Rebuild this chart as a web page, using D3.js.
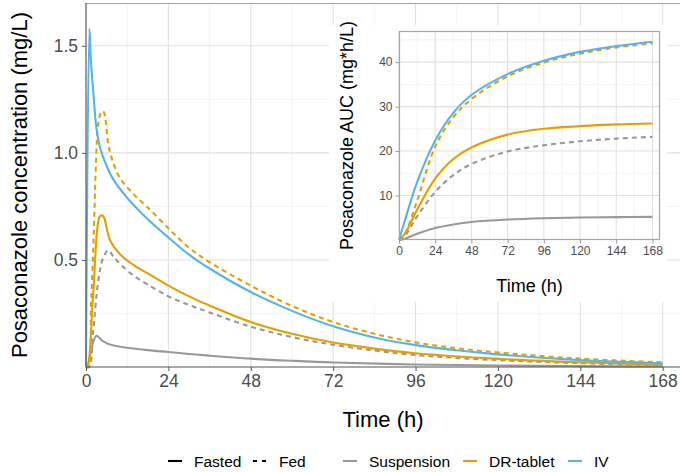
<!DOCTYPE html>
<html lang="en">
<head>
<meta charset="utf-8">
<title>Posaconazole concentration</title>
<script src="https://d3js.org/d3.v7.min.js"></script>
<style>
  body { margin: 0; background: #fff; }
  svg { font-family: "Liberation Sans", Arial, sans-serif; }
</style>
</head>
<body>
<div id="chart"></div>
<script>
// ---- data ----
const xTicks = [0, 24, 48, 72, 96, 120, 144, 168];
const concTicks = [0.5, 1.0, 1.5];
const aucTicks = [10, 20, 30, 40];
const formulations = ["Suspension", "DR-tablet", "IV"];
const states = ["Fasted", "Fed"];

// concentration (mg/L)
const suspFastedTime = [0, 0.3, 3, 5, 8, 12, 18, 24, 30, 36, 48, 60, 72, 96, 120, 144, 168];
const suspFastedConc = [0, 0, 0.145, 0.12, 0.10, 0.09, 0.079, 0.07, 0.061, 0.053, 0.039, 0.029, 0.021, 0.012, 0.007, 0.004, 0.002];
const suspFedTime = [0, 1, 2, 3.6, 5, 6.5, 8, 10, 14, 18, 24, 30, 36, 48, 60, 72, 84, 96, 120, 144, 168];
const suspFedConc = [0, 0, 0.15, 0.405, 0.51, 0.545, 0.515, 0.48, 0.425, 0.385, 0.33, 0.29, 0.255, 0.188, 0.14, 0.104, 0.077, 0.056, 0.032, 0.018, 0.008];
const drFastedTime = [0, 0.4, 2.1, 3.9, 4.6, 5.2, 7, 10, 14, 18, 24, 30, 36, 48, 60, 72, 84, 96, 120, 144, 168];
const drFastedConc = [0, 0, 0.34, 0.70, 0.708, 0.70, 0.592, 0.525, 0.475, 0.437, 0.38, 0.33, 0.287, 0.21, 0.155, 0.114, 0.086, 0.064, 0.038, 0.022, 0.01];
const drFedTime = [0, 0.7, 1.5, 2.3, 2.9, 3.6, 4.6, 5.2, 6.5, 8, 10, 14, 18, 24, 30, 36, 48, 60, 72, 84, 96, 108, 120, 144, 168];
const drFedConc = [0, 0, 0.3, 0.64, 0.95, 1.14, 1.195, 1.19, 1.04, 0.95, 0.88, 0.805, 0.745, 0.648, 0.557, 0.49, 0.38, 0.285, 0.21, 0.155, 0.115, 0.088, 0.068, 0.039, 0.022];
const ivTime = [0, 1, 1.5, 2, 3, 4, 6, 8, 12, 18, 24, 30, 36, 48, 60, 72, 84, 96, 108, 120, 144, 168];
const ivConc = [0, 1.58, 1.41, 1.31, 1.12, 1.03, 0.94, 0.875, 0.79, 0.69, 0.605, 0.525, 0.46, 0.35, 0.262, 0.19, 0.138, 0.102, 0.078, 0.059, 0.032, 0.017];

// cumulative AUC (mg*h/L)
const aucTime = [0, 4, 12, 24, 36, 48, 72, 96, 120, 144, 168];
const aucSuspFasted = [0, 0.3, 1.4, 2.7, 3.5, 4.05, 4.6, 4.9, 5.05, 5.15, 5.2];
const aucSuspFed = [0, 1.0, 5.3, 10.8, 14.6, 17.1, 19.9, 21.3, 22.2, 22.8, 23.2];
const aucDrFasted = [0, 1.5, 6.8, 13.8, 18.2, 20.8, 23.7, 25.0, 25.6, 26.0, 26.2];
const aucDrFed = [0, 1.5, 8.8, 21.0, 27.6, 31.7, 36.8, 39.9, 41.9, 43.3, 44.2];
const aucIvFasted = [0, 4.5, 13, 22.4, 28.6, 32.6, 37.3, 40.3, 42.3, 43.6, 44.6];

const colors = {"Suspension": "#999999", "DR-tablet": "#E69F00", "IV": "#56B4E9"};
const dashes = {"Fasted": null, "Fed": "5,4"};

const zip = (xs, ys) => xs.map((x, i) => [x, ys[i]]);

const concSeries = [
  {form: "Suspension", state: "Fasted", pts: zip(suspFastedTime, suspFastedConc)},
  {form: "Suspension", state: "Fed", pts: zip(suspFedTime, suspFedConc)},
  {form: "DR-tablet", state: "Fasted", pts: zip(drFastedTime, drFastedConc)},
  {form: "DR-tablet", state: "Fed", pts: zip(drFedTime, drFedConc)},
  {form: "IV", state: "Fasted", pts: zip(ivTime, ivConc)}
];
const aucSeries = [
  {form: "Suspension", state: "Fasted", pts: zip(aucTime, aucSuspFasted)},
  {form: "Suspension", state: "Fed", pts: zip(aucTime, aucSuspFed)},
  {form: "DR-tablet", state: "Fasted", pts: zip(aucTime, aucDrFasted)},
  {form: "DR-tablet", state: "Fed", pts: zip(aucTime, aucDrFed)},
  {form: "IV", state: "Fasted", pts: zip(aucTime, aucIvFasted)}
];

const W = 680, H = 472;
const svg = d3.select("#chart").append("svg")
  .attr("width", W).attr("height", H);

const tickCol = "#4d4d4d";
const gridMajor = "#e0e0e0", gridMinor = "#eeeeee";

function minorBetween(ticks) {
  const out = [];
  for (let i = 0; i < ticks.length - 1; i++) out.push((ticks[i] + ticks[i + 1]) / 2);
  return out;
}

// draws a panel: grid, lines, border, axes
function drawPanel(g, opt) {
  const x = opt.x, y = opt.y;
  const [x0, x1] = x.range(), [y0, y1] = y.range();

  g.append("rect").attr("x", x0).attr("y", y1).attr("width", x1 - x0).attr("height", y0 - y1)
    .attr("fill", "#fff");

  const xMinor = minorBetween(xTicks);
  const yMinor = opt.yMinor;
  g.selectAll(".gxm").data(xMinor).join("line")
    .attr("x1", d => x(d)).attr("x2", d => x(d)).attr("y1", y0).attr("y2", y1)
    .attr("stroke", gridMinor).attr("stroke-width", 0.7);
  g.selectAll(".gym").data(yMinor).join("line")
    .attr("y1", d => y(d)).attr("y2", d => y(d)).attr("x1", x0).attr("x2", x1)
    .attr("stroke", gridMinor).attr("stroke-width", 0.7);
  g.selectAll(".gx").data(xTicks).join("line")
    .attr("x1", d => x(d)).attr("x2", d => x(d)).attr("y1", y0).attr("y2", y1)
    .attr("stroke", gridMajor).attr("stroke-width", 1.1);
  g.selectAll(".gy").data(opt.yTicks).join("line")
    .attr("y1", d => y(d)).attr("y2", d => y(d)).attr("x1", x0).attr("x2", x1)
    .attr("stroke", gridMajor).attr("stroke-width", 1.1);

  const line = d3.line().x(d => x(d[0])).y(d => y(d[1])).curve(d3.curveCatmullRom.alpha(0.5));
  g.selectAll(".series").data(opt.series).join("path")
    .attr("d", d => line(d.pts))
    .attr("fill", "none")
    .attr("stroke", d => colors[d.form])
    .attr("stroke-width", opt.lw)
    .attr("stroke-linejoin", "round")
    .attr("stroke-dasharray", d => dashes[d.state]);

  // axes
  const xa = g.append("g").attr("transform", `translate(0,${y0})`)
    .call(d3.axisBottom(x).tickValues(xTicks).tickSize(opt.tick).tickPadding(opt.xPad).tickFormat(d3.format("d")));
  const ya = g.append("g").attr("transform", `translate(${x0},0)`)
    .call(d3.axisLeft(y).tickValues(opt.yTicks).tickSize(opt.tick).tickPadding(opt.yPad).tickFormat(opt.yFmt));
  [xa, ya].forEach(a => {
    a.select(".domain").remove();
    a.selectAll(".tick line").attr("stroke", opt.tickStroke);
    a.selectAll(".tick text").attr("fill", tickCol).style("font-size", opt.fs + "px")
      .attr("font-family", null);
  });

  if (opt.fullBorder) {
    g.append("rect").attr("x", x0 + 0.5).attr("y", y1 + 0.5)
      .attr("width", x1 - x0 - 1).attr("height", y0 - y1 - 1)
      .attr("fill", "none").attr("stroke", "#a6a6a6").attr("stroke-width", 1.2);
  } else {
    g.append("line").attr("x1", x0).attr("x2", x1).attr("y1", y1 + 0.5).attr("y2", y1 + 0.5)
      .attr("stroke", "#a6a6a6").attr("stroke-width", 1.2);
    g.append("line").attr("x1", x0).attr("x2", x1).attr("y1", y0).attr("y2", y0)
      .attr("stroke", "#555").attr("stroke-width", 1.2);
    g.append("line").attr("x1", x0).attr("x2", x0).attr("y1", y1).attr("y2", y0)
      .attr("stroke", "#666").attr("stroke-width", 1.2);
  }
}

// ---- main panel ----
const xMain = d3.scaleLinear().domain([0, 168 * 1.03]).range([86, 680]);
const yMain = d3.scaleLinear().domain([0, 1.7]).range([367, 3]);
const main = svg.append("g");
drawPanel(main, {
  x: xMain, y: yMain, yTicks: concTicks, yMinor: [0.25, 0.75, 1.25],
  series: concSeries, lw: 2.1, tick: 4, xPad: 4, yPad: 4, fs: 17.5,
  yFmt: d3.format(".1f"), tickStroke: "#555", fullBorder: false
});
svg.append("text").attr("x", 383).attr("y", 427).attr("text-anchor", "middle")
  .style("font-size", "22px").attr("fill", "#000").text("Time (h)");
svg.append("text").attr("transform", `translate(27,185) rotate(-90)`).attr("text-anchor", "middle")
  .style("font-size", "22px").attr("fill", "#000").text("Posaconazole concentration (mg/L)");

// ---- inset panel ----
svg.append("rect").attr("x", 329).attr("y", 25).attr("width", 338).attr("height", 277).attr("fill", "#fff");
const xIn = d3.scaleLinear().domain([0, 173]).range([399, 660]);
const yIn = d3.scaleLinear().domain([0, 47]).range([240, 31]);
const inset = svg.append("g");
drawPanel(inset, {
  x: xIn, y: yIn, yTicks: aucTicks, yMinor: [5, 15, 25, 35, 45],
  series: aucSeries, lw: 2.1, tick: 3.5, xPad: 3, yPad: 3, fs: 12,
  yFmt: d3.format("d"), tickStroke: "#999", fullBorder: true
});
svg.append("text").attr("x", 529.5).attr("y", 292).attr("text-anchor", "middle")
  .style("font-size", "18px").attr("fill", "#000").text("Time (h)");
svg.append("text").attr("transform", `translate(353,135.5) rotate(-90)`).attr("text-anchor", "middle")
  .style("font-size", "18px").attr("fill", "#000").text("Posaconazole AUC (mg*h/L)");

// ---- legend ----
const legendItems = [
  {label: states[0], x: 168, color: "#000", dash: null},
  {label: states[1], x: 253, color: "#000", dash: "4,5"},
  {label: formulations[0], x: 343, color: colors["Suspension"], dash: null},
  {label: formulations[1], x: 463, color: colors["DR-tablet"], dash: null},
  {label: formulations[2], x: 568, color: colors["IV"], dash: null}
];
const leg = svg.append("g").selectAll("g").data(legendItems).join("g")
  .attr("transform", d => `translate(${d.x},461)`);
leg.append("line").attr("x1", 0).attr("x2", 14).attr("y1", 0).attr("y2", 0)
  .attr("stroke", d => d.color).attr("stroke-width", 2.1)
  .attr("stroke-dasharray", d => d.dash);
leg.append("text").attr("x", 26).attr("y", 6).style("font-size", "15.5px").attr("fill", "#000")
  .text(d => d.label);
</script>
</body>
</html>
